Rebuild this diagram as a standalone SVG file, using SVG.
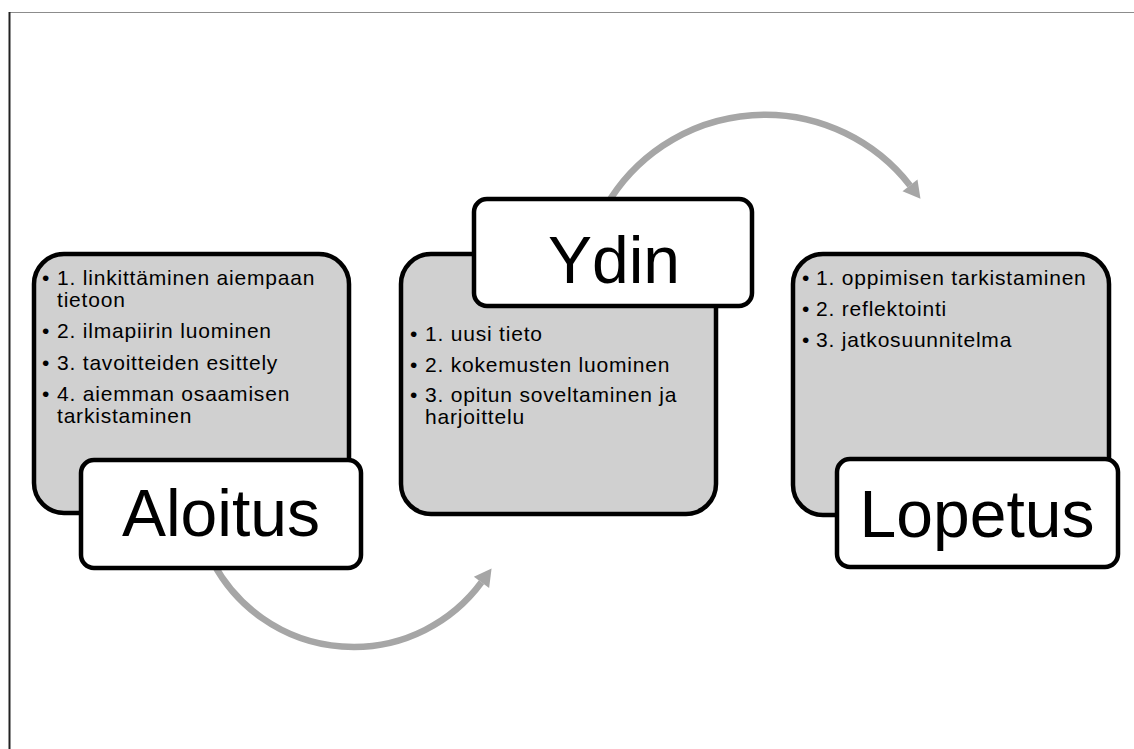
<svg xmlns="http://www.w3.org/2000/svg" width="1134" height="749" viewBox="0 0 1134 749">
<style>
.card{fill:#d0d0d0;stroke:#000;stroke-width:4.5}
.lab{fill:#fff;stroke:#000;stroke-width:4.5}
.body{font-family:"Liberation Sans",Arial,sans-serif;font-size:21px;letter-spacing:0.8px;fill:#000}
.big{font-family:"Liberation Sans",Arial,sans-serif;font-size:66px;fill:#000;text-anchor:middle}
.arc{fill:none;stroke:#a6a6a6;stroke-width:6.5}
</style>
<defs>
<marker id="ah" markerUnits="userSpaceOnUse" markerWidth="20" markerHeight="20" refX="0" refY="9.5" orient="auto" overflow="visible">
<path d="M0,0 L17,9.5 L0,19 Z" fill="#a6a6a6"/>
</marker>
</defs>
<rect width="1134" height="749" fill="#fff"/>
<g id="frame">
<line x1="9" y1="12.5" x2="1134" y2="12.5" stroke="#8c8c8c" stroke-width="1.2"/>
<line x1="9.5" y1="12" x2="9.5" y2="749" stroke="#222" stroke-width="2"/>
</g>
<g id="connectors">
<path class="arc" d="M213.1,562.6 A159,159 0 0 0 481.5,582.3" marker-end="url(#ah)"/>
<path class="arc" d="M605.7,206.7 A184,184 0 0 1 910,185.4" marker-end="url(#ah)"/>
</g>
<g id="aloitus">
<rect class="card" x="34" y="254" width="315" height="259" rx="30"/>
<text class="body" y="285"><tspan x="42">•</tspan><tspan x="57">1. linkittäminen aiempaan</tspan></text>
<text class="body" x="57" y="306.5">tietoon</text>
<text class="body" y="338"><tspan x="42">•</tspan><tspan x="57">2. ilmapiirin luominen</tspan></text>
<text class="body" y="369.5"><tspan x="42">•</tspan><tspan x="57">3. tavoitteiden esittely</tspan></text>
<text class="body" y="401"><tspan x="42">•</tspan><tspan x="57">4. aiemman osaamisen</tspan></text>
<text class="body" x="57" y="422.5">tarkistaminen</text>
<rect class="lab" x="81" y="460" width="280" height="108" rx="13"/>
<text class="big" x="221" y="536">Aloitus</text>
</g>
<g id="ydin">
<rect class="card" x="401" y="254" width="315" height="260" rx="30"/>
<rect class="lab" x="474" y="199" width="278" height="107" rx="13"/>
<text class="big" x="614" y="283">Ydin</text>
<text class="body" y="340.5"><tspan x="410">•</tspan><tspan x="425">1. uusi tieto</tspan></text>
<text class="body" y="371.5"><tspan x="410">•</tspan><tspan x="425">2. kokemusten luominen</tspan></text>
<text class="body" y="402"><tspan x="410">•</tspan><tspan x="425">3. opitun soveltaminen ja</tspan></text>
<text class="body" x="425" y="423.5">harjoittelu</text>
</g>
<g id="lopetus">
<rect class="card" x="793" y="254" width="316" height="261" rx="30"/>
<text class="body" y="285"><tspan x="802">•</tspan><tspan x="816">1. oppimisen tarkistaminen</tspan></text>
<text class="body" y="316"><tspan x="802">•</tspan><tspan x="816">2. reflektointi</tspan></text>
<text class="body" y="347"><tspan x="802">•</tspan><tspan x="816">3. jatkosuunnitelma</tspan></text>
<rect class="lab" x="837" y="459" width="281" height="108" rx="13"/>
<text class="big" x="977" y="537">Lopetus</text>
</g>
</svg>
